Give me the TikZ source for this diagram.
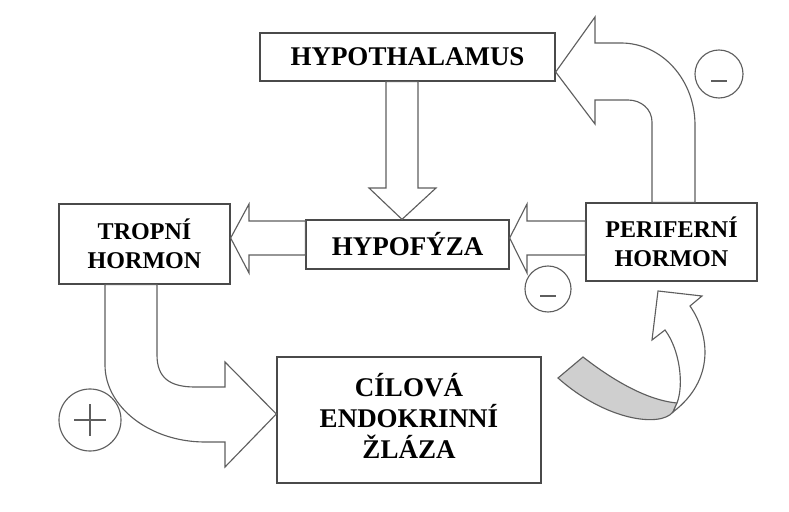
\documentclass[tikz,border=0pt]{standalone}
\usepackage{fontspec}
\setmainfont{Liberation Serif}
\definecolor{boxgray}{HTML}{4A4A4A}
\definecolor{arrowgray}{HTML}{5E5E5E}
\definecolor{bandgray}{HTML}{CFCFCF}
\begin{document}
\begin{tikzpicture}[x=0.025cm, y=-0.025cm,
        box/.style={draw=boxgray, line width=0.9pt, align=center, inner sep=0pt, font=\fontsize{19.2}{22}\selectfont\bfseries},
        smallbox/.style={box, font=\fontsize{17.1}{20.6}\selectfont\bfseries},
        blockarrow/.style={draw=arrowgray, line width=0.8pt, fill=white, line join=miter},
        sign/.style={draw=arrowgray, circle, line width=0.8pt, inner sep=0pt}]
    \useasboundingbox[fill=white] (0,0) rectangle (789,512);
    % boxes
    \node[box, minimum width=7.375cm, minimum height=1.2cm] (hypo) at (407.5,57) {HYPOTHALAMUS};
    \node[box, minimum width=5.075cm, minimum height=1.225cm] (hypofyza) at (407.5,244.5) {HYPOFÝZA};
    \node[smallbox, minimum width=4.275cm, minimum height=2.0cm] (tropni) at (144.5,244) {TROPNÍ\\HORMON};
    \node[smallbox, minimum width=4.275cm, minimum height=1.95cm] (periferni) at (671.5,242) {PERIFERNÍ\\HORMON};
    \node[box, minimum width=6.6cm, minimum height=3.15cm, text depth=0.2cm] (cilova) at (409,420) {CÍLOVÁ\\ENDOKRINNÍ\\ŽLÁZA};
    % block arrows
    \draw[blockarrow] (386,0 |- hypo.south) -- (386,188) -- (369,188) -- (402,0 |- hypofyza.north)
        -- (436,188) -- (418,188) -- (418,0 |- hypo.south) -- cycle;
    \draw[blockarrow] (hypofyza.west |- 0,221) -- (249,221) -- (249,204) -- (tropni.east |- 0,238)
        -- (249,273) -- (249,255) -- (hypofyza.west |- 0,255) -- cycle;
    \draw[blockarrow] (periferni.west |- 0,221) -- (527,221) -- (527,204) -- (hypofyza.east |- 0,238)
        -- (527,273) -- (527,255) -- (periferni.west |- 0,255) -- cycle;
    \draw[blockarrow] (652,0 |- periferni.north) -- (652,122) .. controls (652,109) and (641,100) .. (628,100)
        -- (595,100) -- (595,124) -- (hypo.east |- 0,72) -- (595,17) -- (595,43) -- (621,43)
        .. controls (662,43) and (695,80) .. (695,125) -- (695,0 |- periferni.north) -- cycle;
    \draw[blockarrow] (105,0 |- tropni.south) -- (105,365) .. controls (105,407) and (150,442) .. (205,442)
        -- (225,442) -- (225,467) -- (cilova.west |- 0,414) -- (225,362) -- (225,387) -- (195,387)
        .. controls (170,387) and (157,378) .. (157,355) -- (157,0 |- tropni.south) -- cycle;
    % twisted arrow
    \draw[draw=arrowgray, line width=0.8pt, fill=bandgray] (558,378) -- (583,357)
        .. controls (610,378) and (645,400) .. (677,403) -- (673,412)
        .. controls (660,428) and (605,420) .. (558,378) -- cycle;
    \draw[blockarrow] (677,403) .. controls (684,385) and (680,350) .. (665,330) -- (652,340) -- (658,291)
        -- (702,296) -- (690,306) .. controls (710,335) and (715,380) .. (673,412) -- cycle;
    % signs
    \node[sign, minimum size=1.55cm] (plus) at (90,420) {};
    \draw[arrowgray, line width=1.1pt] (plus.center) ++(-16,0) -- ++(32,0);
    \draw[arrowgray, line width=1.1pt] (plus.center) ++(0,-16) -- ++(0,32);
    \node[sign, minimum size=1.2cm] (minustop) at (719,74) {};
    \draw[arrowgray, line width=1.1pt] (minustop.center) ++(-8,7) -- ++(16,0);
    \node[sign, minimum size=1.15cm] (minuslow) at (548,289) {};
    \draw[arrowgray, line width=1.1pt] (minuslow.center) ++(-8,7) -- ++(16,0);
\end{tikzpicture}
\end{document}
